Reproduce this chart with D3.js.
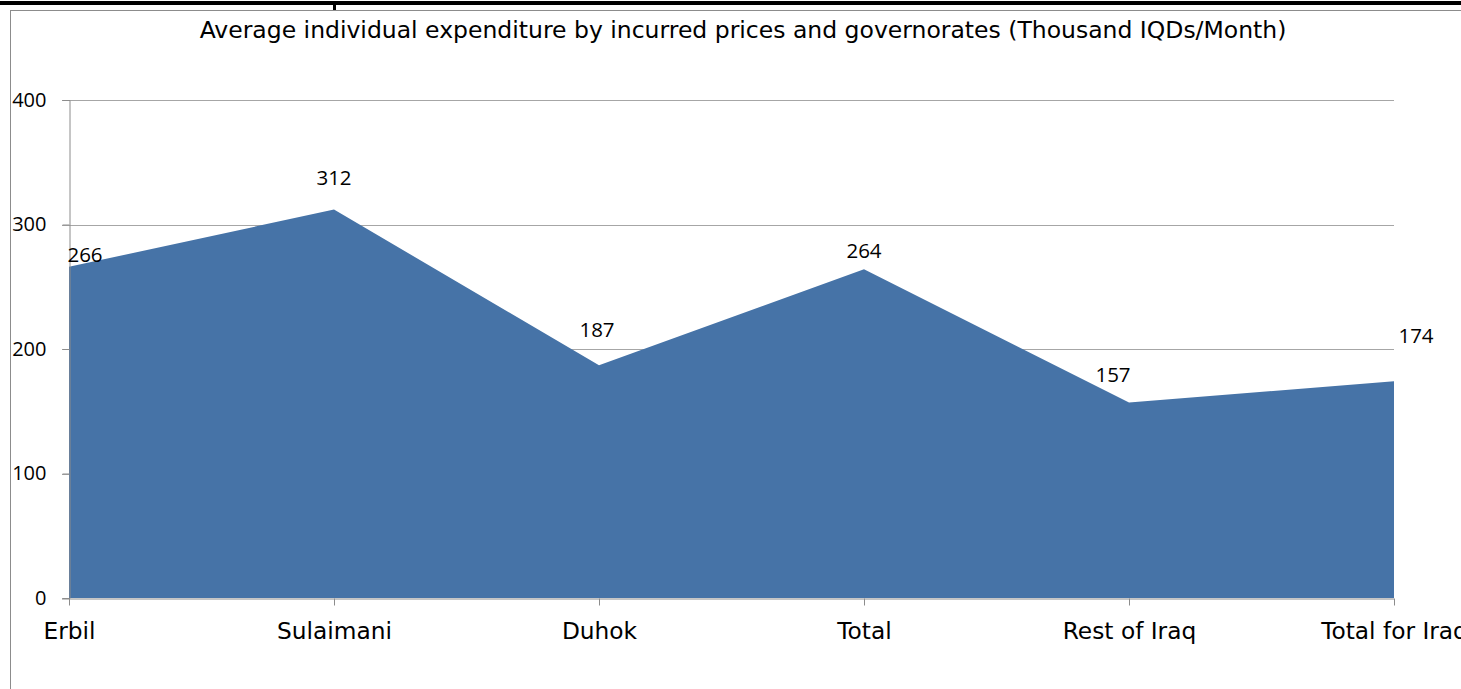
<!DOCTYPE html>
<html>
<head>
<meta charset="utf-8">
<script src="https://cdn.jsdelivr.net/npm/d3@7"></script>
<style>
  html, body { margin: 0; padding: 0; background: #fff; }
  svg { display: block; }
</style>
</head>
<body>
<svg id="chart" width="1461" height="689"></svg>
<script>
// Governorates and average monthly individual expenditure (thousand IQD)
const categories = ["Erbil", "Sulaimani", "Duhok", "Total", "Rest of Iraq", "Total for Iraq"];
const expenditure = [266, 312, 187, 264, 157, 174];
const yTicks = [0, 100, 200, 300, 400];
const title = "Average individual expenditure by incurred prices and governorates (Thousand IQDs/Month)";

// Per-label placement tweaks (dx, dy relative to the point)
const labelDx = [16, 0, -2, 0, -16, 22];
const labelDy = [-5, -25, -28, -11, -21, -38];

const svg = d3.select("#chart");
const W = 1461, H = 689;
const plot = { left: 69, right: 1394, top: 100, bottom: 598 };
const labelFont = "'Open Sans', sans-serif";
const textFont = "'DejaVu Sans', Verdana, sans-serif";

// Page rule and frame
svg.append("rect").attr("x", 0).attr("y", 1).attr("width", W).attr("height", 4).attr("fill", "#000");
svg.append("rect").attr("x", 333).attr("y", 4).attr("width", 3).attr("height", 6).attr("fill", "#000");
svg.append("rect")
  .attr("x", 10.5).attr("y", 10.5)
  .attr("width", W + 20).attr("height", H + 20)
  .attr("fill", "none").attr("stroke", "#8c8c8c").attr("stroke-width", 1);

const x = d3.scalePoint().domain(categories).range([plot.left, plot.right]);
const y = d3.scaleLinear().domain([0, 400]).range([plot.bottom, plot.top]);

// Gridlines
svg.append("g")
  .selectAll("line")
  .data(yTicks.filter(d => d > 0))
  .join("line")
  .attr("x1", plot.left - 7).attr("x2", plot.right)
  .attr("y1", d => Math.round(y(d)) + 0.5).attr("y2", d => Math.round(y(d)) + 0.5)
  .attr("stroke", "#a6a6a6").attr("stroke-width", 1);

// Area
const area = d3.area()
  .x((d, i) => x(categories[i]))
  .y0(y(0))
  .y1(d => y(d));
svg.append("path")
  .datum(expenditure)
  .attr("d", area)
  .attr("fill", "#4673a7");

// Y axis
const yAxis = svg.append("g")
  .attr("transform", `translate(${plot.left + 0.5},0)`)
  .call(d3.axisLeft(y).tickValues(yTicks).tickSize(7).tickPadding(16));
yAxis.select(".domain").attr("stroke", "#8c8c8c");
yAxis.selectAll(".tick line").attr("stroke", "#8c8c8c");
yAxis.selectAll(".tick text")
  .attr("font-family", labelFont)
  .attr("font-size", 20)
  .attr("fill", "#000");

// X axis
const xAxis = svg.append("g")
  .attr("transform", `translate(0,${plot.bottom + 0.5})`)
  .call(d3.axisBottom(x).tickSize(7));
xAxis.select(".domain").attr("stroke", "#8c8c8c").attr("d", `M${plot.left - 7},0.5H${plot.right}`);
xAxis.selectAll(".tick line").attr("stroke", "#8c8c8c");
xAxis.selectAll(".tick text")
  .attr("y", 40).attr("dy", null)
  .attr("font-family", textFont)
  .attr("font-size", 23.3)
  .attr("fill", "#000");

// Value labels
svg.append("g")
  .selectAll("text")
  .data(expenditure)
  .join("text")
  .attr("x", (d, i) => x(categories[i]) + labelDx[i])
  .attr("y", (d, i) => y(d) + labelDy[i])
  .attr("text-anchor", "middle")
  .attr("font-family", labelFont)
  .attr("font-size", 20.5)
  .attr("fill", "#000")
  .text(d => d);

// Title
svg.append("text")
  .attr("x", 743).attr("y", 38)
  .attr("text-anchor", "middle")
  .attr("font-family", textFont)
  .attr("font-size", 23.5)
  .attr("fill", "#000")
  .text(title);
</script>
</body>
</html>
